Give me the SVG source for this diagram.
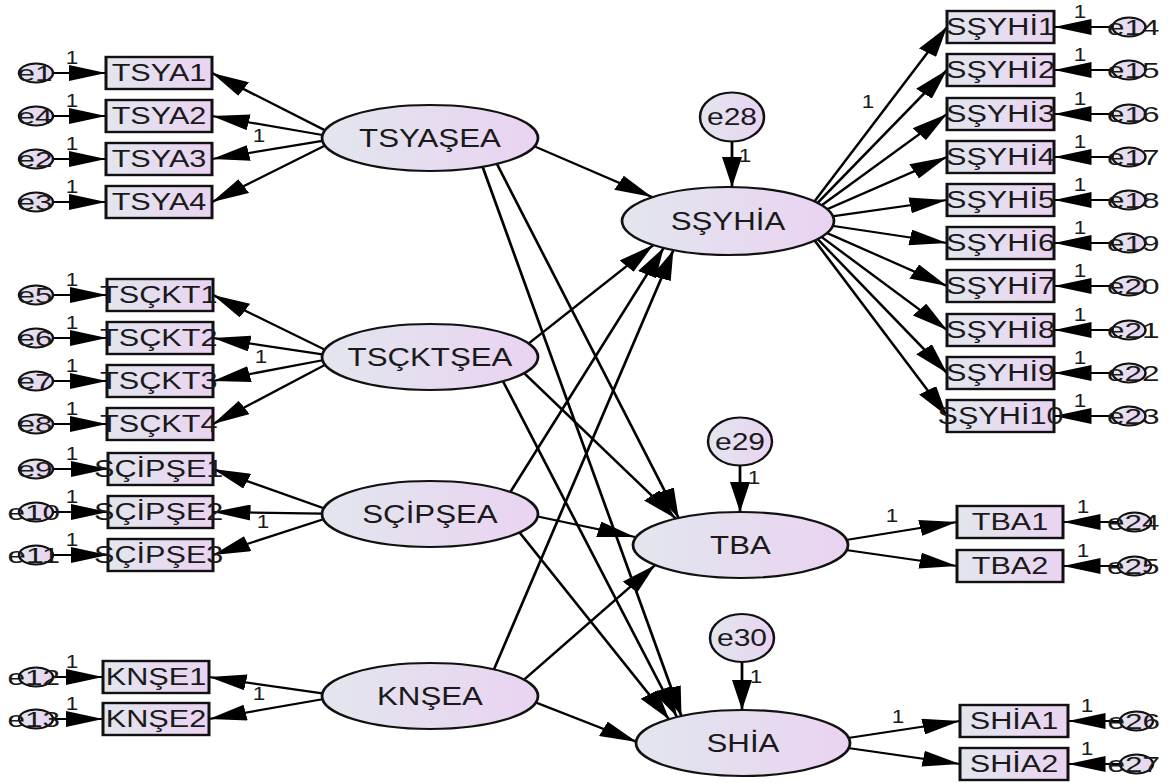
<svg xmlns="http://www.w3.org/2000/svg" width="1168" height="783" viewBox="0 0 1168 783">
<defs>
<linearGradient id="gf" x1="0" y1="0" x2="1" y2="0">
<stop offset="0" stop-color="#e2e6ee"/>
<stop offset="1" stop-color="#ead3f1"/>
</linearGradient>
<marker id="ah" viewBox="0 0 30 16" refX="30" refY="8" markerWidth="30" markerHeight="16" markerUnits="userSpaceOnUse" orient="auto">
<path d="M0,0 L30,8 L0,16 Z" fill="#000"/>
</marker>
<style>
.r{fill:url(#gf);stroke:#111;stroke-width:2.4}
.lat{fill:url(#gf);stroke:#111;stroke-width:2.2}
.e{fill:url(#gf);stroke:#111;stroke-width:2}
.t{font-family:"Liberation Sans",Arial,sans-serif;fill:#1a1a1a;text-anchor:middle}
.rt{font-size:24.5px}
.lt{font-size:25px}
.el{font-size:22.5px}
.eb{font-size:24px}
.n{font-size:18px}
#connectors line{stroke:#000;stroke-width:2.2;marker-end:url(#ah)}
</style>
</defs>
<rect width="1168" height="783" fill="#fff"/>
<g transform="scale(1.25,1)">
<g id="connectors">
<line x1="42.4" y1="73" x2="84.8" y2="73"/>
<line x1="42.4" y1="116" x2="84.8" y2="116"/>
<line x1="42.4" y1="159" x2="84.8" y2="159"/>
<line x1="42.4" y1="202" x2="84.8" y2="202"/>
<line x1="42.4" y1="295" x2="85.6" y2="295"/>
<line x1="42.4" y1="338" x2="85.6" y2="338"/>
<line x1="42.4" y1="381" x2="85.6" y2="381"/>
<line x1="42.4" y1="424" x2="85.6" y2="424"/>
<line x1="42.4" y1="469" x2="86.4" y2="469"/>
<line x1="42.4" y1="512" x2="86.4" y2="512"/>
<line x1="42.4" y1="555" x2="86.4" y2="555"/>
<line x1="42.4" y1="677" x2="82.4" y2="677"/>
<line x1="42.4" y1="719" x2="82.4" y2="719"/>
<line x1="259.9" y1="130.3" x2="169.6" y2="73"/>
<line x1="258" y1="135" x2="169.6" y2="116"/>
<line x1="257.9" y1="140.9" x2="169.6" y2="159"/>
<line x1="259.9" y1="145.6" x2="169.6" y2="202"/>
<line x1="259.8" y1="349.6" x2="170.4" y2="295"/>
<line x1="257.9" y1="354.4" x2="170.4" y2="338"/>
<line x1="258" y1="360.3" x2="170.4" y2="381"/>
<line x1="260" y1="364.8" x2="170.4" y2="424"/>
<line x1="259" y1="508.3" x2="170.4" y2="469"/>
<line x1="257.6" y1="513.7" x2="170.4" y2="512"/>
<line x1="258.7" y1="519.3" x2="170.4" y2="555"/>
<line x1="257.9" y1="693.4" x2="167.2" y2="677"/>
<line x1="257.9" y1="699.2" x2="167.2" y2="719"/>
<line x1="424.4" y1="144.6" x2="521.6" y2="197"/>
<line x1="396.2" y1="160.7" x2="543" y2="518.3"/>
<line x1="384.8" y1="162.4" x2="545.2" y2="716.4"/>
<line x1="418.6" y1="347.7" x2="522.6" y2="245.1"/>
<line x1="419" y1="372.8" x2="540.5" y2="518.5"/>
<line x1="398.9" y1="372.8" x2="541.5" y2="716.8"/>
<line x1="407.8" y1="493.1" x2="531" y2="247.7"/>
<line x1="427.3" y1="515.8" x2="508" y2="537"/>
<line x1="413" y1="528.3" x2="535.4" y2="719.6"/>
<line x1="394.1" y1="672.5" x2="538.7" y2="250.1"/>
<line x1="418" y1="681" x2="524.2" y2="565"/>
<line x1="425.1" y1="700.8" x2="509.6" y2="742"/>
<line x1="585.6" y1="141.5" x2="585.6" y2="187"/>
<line x1="592" y1="465" x2="592" y2="512"/>
<line x1="593.6" y1="662" x2="593.6" y2="710"/>
<line x1="651.2" y1="202" x2="757.6" y2="27"/>
<line x1="653.4" y1="203.8" x2="757.6" y2="70"/>
<line x1="656.4" y1="206.1" x2="757.6" y2="114"/>
<line x1="660.3" y1="210" x2="757.6" y2="157"/>
<line x1="664.2" y1="216.7" x2="757.6" y2="200"/>
<line x1="664.1" y1="225.5" x2="757.6" y2="243"/>
<line x1="660.2" y1="232.2" x2="757.6" y2="286"/>
<line x1="656.2" y1="236" x2="757.6" y2="330"/>
<line x1="653.4" y1="238.2" x2="757.6" y2="373"/>
<line x1="651.2" y1="239.6" x2="757.6" y2="416"/>
<line x1="676.8" y1="540" x2="765.6" y2="522"/>
<line x1="676.8" y1="550" x2="765.6" y2="566"/>
<line x1="678.4" y1="738" x2="768" y2="721"/>
<line x1="678.4" y1="748" x2="768" y2="764"/>
<line x1="889.6" y1="27" x2="843.2" y2="27"/>
<line x1="889.6" y1="70" x2="843.2" y2="70"/>
<line x1="889.6" y1="114" x2="843.2" y2="114"/>
<line x1="889.6" y1="157" x2="843.2" y2="157"/>
<line x1="889.6" y1="200" x2="843.2" y2="200"/>
<line x1="889.6" y1="243" x2="843.2" y2="243"/>
<line x1="889.6" y1="286" x2="843.2" y2="286"/>
<line x1="889.6" y1="330" x2="843.2" y2="330"/>
<line x1="889.6" y1="373" x2="843.2" y2="373"/>
<line x1="889.6" y1="416" x2="843.2" y2="416"/>
<line x1="893.6" y1="522" x2="850.4" y2="522"/>
<line x1="893.6" y1="566" x2="850.4" y2="566"/>
<line x1="895.2" y1="721" x2="854.4" y2="721"/>
<line x1="895.2" y1="764" x2="854.4" y2="764"/>
<g class="t n">
<text x="57.6" y="64">1</text><text x="57.6" y="107">1</text><text x="57.6" y="150">1</text><text x="57.6" y="193">1</text>
<text x="57.6" y="286">1</text><text x="57.6" y="329">1</text><text x="57.6" y="372">1</text><text x="57.6" y="415">1</text>
<text x="57.6" y="460">1</text><text x="57.6" y="503">1</text><text x="57.6" y="546">1</text>
<text x="57.6" y="668">1</text><text x="57.6" y="710">1</text>
<text x="864" y="18">1</text><text x="864" y="61">1</text><text x="864" y="105">1</text><text x="864" y="148">1</text><text x="864" y="191">1</text>
<text x="864" y="234">1</text><text x="864" y="277">1</text><text x="864" y="321">1</text><text x="864" y="364">1</text><text x="864" y="407">1</text>
<text x="866.4" y="513">1</text><text x="866.4" y="557">1</text>
<text x="869.6" y="712">1</text><text x="869.6" y="755">1</text>
<text x="207.2" y="142">1</text><text x="208.8" y="363">1</text><text x="210.4" y="528">1</text><text x="207.2" y="700">1</text>
<text x="694.4" y="108">1</text><text x="713.6" y="522">1</text><text x="718.4" y="723">1</text>
<text x="596" y="162">1</text><text x="603.2" y="484">1</text><text x="604.8" y="683">1</text>
</g>
</g>
<g id="TSYASEA"><ellipse class="lat" cx="344" cy="138" rx="86.4" ry="33"/><text class="t lt" x="344" y="147">TSYAŞEA</text></g>
<g id="TSCKTSEA"><ellipse class="lat" cx="344" cy="357" rx="86.4" ry="33"/><text class="t lt" x="344" y="366">TSÇKTŞEA</text></g>
<g id="SCIPSEA"><ellipse class="lat" cx="344" cy="514" rx="86.4" ry="33"/><text class="t lt" x="344" y="523">SÇİPŞEA</text></g>
<g id="KNSEA"><ellipse class="lat" cx="344" cy="696" rx="86.4" ry="33"/><text class="t lt" x="344" y="705">KNŞEA</text></g>
<g id="SSYHIA"><ellipse class="lat" cx="582.4" cy="221" rx="84.8" ry="34"/><text class="t lt" x="582.4" y="230">SŞYHİA</text></g>
<g id="TBA"><ellipse class="lat" cx="592.4" cy="545" rx="86" ry="33"/><text class="t lt" x="592.4" y="554">TBA</text></g>
<g id="SHIA"><ellipse class="lat" cx="594.4" cy="743" rx="85.6" ry="33"/><text class="t lt" x="594.4" y="752">SHİA</text></g>
<g id="e28"><ellipse class="e" cx="585.6" cy="117" rx="25.6" ry="24.5"/><text class="t eb" x="585.6" y="125.5">e28</text></g>
<g id="e29"><ellipse class="e" cx="592" cy="441.5" rx="25.6" ry="24"/><text class="t eb" x="592" y="450">e29</text></g>
<g id="e30"><ellipse class="e" cx="593.6" cy="638" rx="25.6" ry="24"/><text class="t eb" x="593.6" y="646.5">e30</text></g>
<g id="TSYA1"><rect class="r" x="84.8" y="57" width="84.8" height="32"/><text class="t rt" x="127.2" y="81.5">TSYA1</text></g>
<g id="TSYA2"><rect class="r" x="84.8" y="100" width="84.8" height="32"/><text class="t rt" x="127.2" y="124.5">TSYA2</text></g>
<g id="TSYA3"><rect class="r" x="84.8" y="143" width="84.8" height="32"/><text class="t rt" x="127.2" y="167.5">TSYA3</text></g>
<g id="TSYA4"><rect class="r" x="84.8" y="186" width="84.8" height="32"/><text class="t rt" x="127.2" y="210.5">TSYA4</text></g>
<g id="TSCKT1"><rect class="r" x="85.6" y="279" width="84.8" height="32"/><text class="t rt" x="127" y="303.5">TSÇKT1</text></g>
<g id="TSCKT2"><rect class="r" x="85.6" y="322" width="84.8" height="32"/><text class="t rt" x="127" y="346.5">TSÇKT2</text></g>
<g id="TSCKT3"><rect class="r" x="85.6" y="365" width="84.8" height="32"/><text class="t rt" x="127" y="389.5">TSÇKT3</text></g>
<g id="TSCKT4"><rect class="r" x="85.6" y="408" width="84.8" height="32"/><text class="t rt" x="127" y="432.5">TSÇKT4</text></g>
<g id="SCIPSE1"><rect class="r" x="86.4" y="453" width="84" height="32"/><text class="t rt" x="127" y="477.5">SÇİPŞE1</text></g>
<g id="SCIPSE2"><rect class="r" x="86.4" y="496" width="84" height="32"/><text class="t rt" x="127" y="520.5">SÇİPŞE2</text></g>
<g id="SCIPSE3"><rect class="r" x="86.4" y="539" width="84" height="32"/><text class="t rt" x="127" y="563.5">SÇİPŞE3</text></g>
<g id="KNSE1"><rect class="r" x="82.4" y="661" width="84.8" height="32"/><text class="t rt" x="124.8" y="685.5">KNŞE1</text></g>
<g id="KNSE2"><rect class="r" x="82.4" y="703" width="84.8" height="32"/><text class="t rt" x="124.8" y="727.5">KNŞE2</text></g>
<g id="e1"><ellipse class="e" cx="28.8" cy="73" rx="13.6" ry="9.5"/><text class="t el" x="28" y="81" textLength="28" lengthAdjust="spacingAndGlyphs">e1</text></g>
<g id="e4"><ellipse class="e" cx="28.8" cy="116" rx="13.6" ry="9.5"/><text class="t el" x="28" y="124" textLength="28" lengthAdjust="spacingAndGlyphs">e4</text></g>
<g id="e2"><ellipse class="e" cx="28.8" cy="159" rx="13.6" ry="9.5"/><text class="t el" x="28" y="167" textLength="28" lengthAdjust="spacingAndGlyphs">e2</text></g>
<g id="e3"><ellipse class="e" cx="28.8" cy="202" rx="13.6" ry="9.5"/><text class="t el" x="28" y="210" textLength="28" lengthAdjust="spacingAndGlyphs">e3</text></g>
<g id="e5"><ellipse class="e" cx="28.8" cy="295" rx="13.6" ry="9.5"/><text class="t el" x="28" y="303" textLength="28" lengthAdjust="spacingAndGlyphs">e5</text></g>
<g id="e6"><ellipse class="e" cx="28.8" cy="338" rx="13.6" ry="9.5"/><text class="t el" x="28" y="346" textLength="28" lengthAdjust="spacingAndGlyphs">e6</text></g>
<g id="e7"><ellipse class="e" cx="28.8" cy="381" rx="13.6" ry="9.5"/><text class="t el" x="28" y="389" textLength="28" lengthAdjust="spacingAndGlyphs">e7</text></g>
<g id="e8"><ellipse class="e" cx="28.8" cy="424" rx="13.6" ry="9.5"/><text class="t el" x="28" y="432" textLength="28" lengthAdjust="spacingAndGlyphs">e8</text></g>
<g id="e9"><ellipse class="e" cx="28.8" cy="469" rx="13.6" ry="9.5"/><text class="t el" x="28" y="477" textLength="28" lengthAdjust="spacingAndGlyphs">e9</text></g>
<g id="e10"><ellipse class="e" cx="28.8" cy="512" rx="13.6" ry="9.5"/><text class="t el" x="27" y="520" textLength="42" lengthAdjust="spacingAndGlyphs">e10</text></g>
<g id="e11"><ellipse class="e" cx="28.8" cy="555" rx="13.6" ry="9.5"/><text class="t el" x="27" y="563" textLength="42" lengthAdjust="spacingAndGlyphs">e11</text></g>
<g id="e12"><ellipse class="e" cx="28.8" cy="677" rx="13.6" ry="9.5"/><text class="t el" x="27" y="685" textLength="42" lengthAdjust="spacingAndGlyphs">e12</text></g>
<g id="e13"><ellipse class="e" cx="28.8" cy="719" rx="13.6" ry="9.5"/><text class="t el" x="27" y="727" textLength="42" lengthAdjust="spacingAndGlyphs">e13</text></g>
<g id="SSYHI1"><rect class="r" x="757.6" y="11" width="85.6" height="32"/><text class="t rt" x="800.4" y="35.5">SŞYHİ1</text></g>
<g id="SSYHI2"><rect class="r" x="757.6" y="54" width="85.6" height="32"/><text class="t rt" x="800.4" y="78.5">SŞYHİ2</text></g>
<g id="SSYHI3"><rect class="r" x="757.6" y="98" width="85.6" height="32"/><text class="t rt" x="800.4" y="122.5">SŞYHİ3</text></g>
<g id="SSYHI4"><rect class="r" x="757.6" y="141" width="85.6" height="32"/><text class="t rt" x="800.4" y="165.5">SŞYHİ4</text></g>
<g id="SSYHI5"><rect class="r" x="757.6" y="184" width="85.6" height="32"/><text class="t rt" x="800.4" y="208.5">SŞYHİ5</text></g>
<g id="SSYHI6"><rect class="r" x="757.6" y="227" width="85.6" height="32"/><text class="t rt" x="800.4" y="251.5">SŞYHİ6</text></g>
<g id="SSYHI7"><rect class="r" x="757.6" y="270" width="85.6" height="32"/><text class="t rt" x="800.4" y="294.5">SŞYHİ7</text></g>
<g id="SSYHI8"><rect class="r" x="757.6" y="314" width="85.6" height="32"/><text class="t rt" x="800.4" y="338.5">SŞYHİ8</text></g>
<g id="SSYHI9"><rect class="r" x="757.6" y="357" width="85.6" height="32"/><text class="t rt" x="800.4" y="381.5">SŞYHİ9</text></g>
<g id="SSYHI10"><rect class="r" x="757.6" y="400" width="85.6" height="32"/><text class="t rt" x="800.4" y="424.5">SŞYHİ10</text></g>
<g id="TBA1"><rect class="r" x="765.6" y="506" width="84.8" height="32"/><text class="t rt" x="808" y="530.5">TBA1</text></g>
<g id="TBA2"><rect class="r" x="765.6" y="550" width="84.8" height="32"/><text class="t rt" x="808" y="574.5">TBA2</text></g>
<g id="SHIA1"><rect class="r" x="768" y="705" width="86.4" height="32"/><text class="t rt" x="811.2" y="729.5">SHİA1</text></g>
<g id="SHIA2"><rect class="r" x="768" y="748" width="86.4" height="32"/><text class="t rt" x="811.2" y="772.5">SHİA2</text></g>
<g id="e14"><ellipse class="e" cx="903.2" cy="27" rx="13.2" ry="9.5"/><text class="t el" x="906.6" y="35" textLength="42" lengthAdjust="spacingAndGlyphs">e14</text></g>
<g id="e15"><ellipse class="e" cx="903.2" cy="70" rx="13.2" ry="9.5"/><text class="t el" x="906.6" y="78" textLength="42" lengthAdjust="spacingAndGlyphs">e15</text></g>
<g id="e16"><ellipse class="e" cx="903.2" cy="114" rx="13.2" ry="9.5"/><text class="t el" x="906.6" y="122" textLength="42" lengthAdjust="spacingAndGlyphs">e16</text></g>
<g id="e17"><ellipse class="e" cx="903.2" cy="157" rx="13.2" ry="9.5"/><text class="t el" x="906.6" y="165" textLength="42" lengthAdjust="spacingAndGlyphs">e17</text></g>
<g id="e18"><ellipse class="e" cx="903.2" cy="200" rx="13.2" ry="9.5"/><text class="t el" x="906.6" y="208" textLength="42" lengthAdjust="spacingAndGlyphs">e18</text></g>
<g id="e19"><ellipse class="e" cx="903.2" cy="243" rx="13.2" ry="9.5"/><text class="t el" x="906.6" y="251" textLength="42" lengthAdjust="spacingAndGlyphs">e19</text></g>
<g id="e20"><ellipse class="e" cx="903.2" cy="286" rx="13.2" ry="9.5"/><text class="t el" x="906.6" y="294" textLength="42" lengthAdjust="spacingAndGlyphs">e20</text></g>
<g id="e21"><ellipse class="e" cx="903.2" cy="330" rx="13.2" ry="9.5"/><text class="t el" x="906.6" y="338" textLength="42" lengthAdjust="spacingAndGlyphs">e21</text></g>
<g id="e22"><ellipse class="e" cx="903.2" cy="373" rx="13.2" ry="9.5"/><text class="t el" x="906.6" y="381" textLength="42" lengthAdjust="spacingAndGlyphs">e22</text></g>
<g id="e23"><ellipse class="e" cx="903.2" cy="416" rx="13.2" ry="9.5"/><text class="t el" x="906.6" y="424" textLength="42" lengthAdjust="spacingAndGlyphs">e23</text></g>
<g id="e24"><ellipse class="e" cx="907.6" cy="522" rx="13.2" ry="9.5"/><text class="t el" x="906.6" y="530" textLength="42" lengthAdjust="spacingAndGlyphs">e24</text></g>
<g id="e25"><ellipse class="e" cx="907.6" cy="566" rx="13.2" ry="9.5"/><text class="t el" x="906.6" y="574" textLength="42" lengthAdjust="spacingAndGlyphs">e25</text></g>
<g id="e26"><ellipse class="e" cx="909.2" cy="721" rx="13.2" ry="9.5"/><text class="t el" x="907" y="729" textLength="42" lengthAdjust="spacingAndGlyphs">e26</text></g>
<g id="e27"><ellipse class="e" cx="909.2" cy="764" rx="13.2" ry="9.5"/><text class="t el" x="907" y="772" textLength="42" lengthAdjust="spacingAndGlyphs">e27</text></g>
</g>
</svg>
